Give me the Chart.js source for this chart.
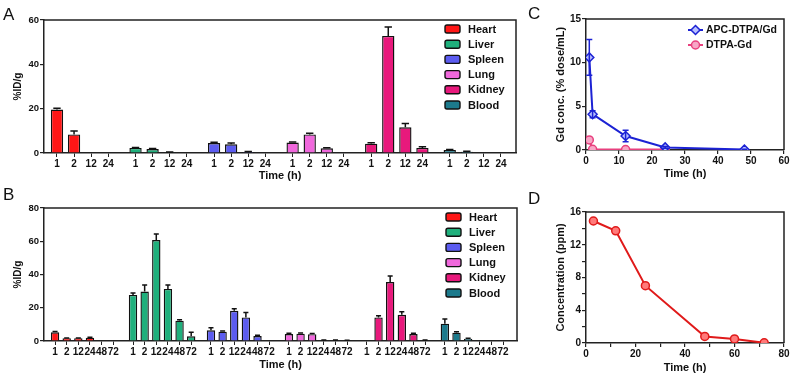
<!DOCTYPE html>
<html>
<head>
<meta charset="utf-8">
<script src="https://cdn.jsdelivr.net/npm/chart.js@4.4.1/dist/chart.umd.min.js"></script>
<style>
  body { margin: 0; background: #fff; }
  #wrap { position: relative; width: 793px; height: 379px; overflow: hidden; background: #fff; }
  #wrap canvas { position: absolute; }
  .tag { position: absolute; font: 17px/17px "Liberation Sans", Arial, sans-serif; color: #111; }
</style>
</head>
<body>
<div id="wrap">
  <canvas id="chartA" width="530" height="186" style="left:0;top:0"></canvas>
  <canvas id="chartB" width="530" height="193" style="left:0;top:186px"></canvas>
  <canvas id="chartC" width="253" height="186" style="left:540px;top:0"></canvas>
  <canvas id="chartD" width="253" height="193" style="left:540px;top:186px"></canvas>
  <div class="tag" style="left:3px;top:6px">A</div>
  <div class="tag" style="left:3px;top:186px">B</div>
  <div class="tag" style="left:528px;top:5px">C</div>
  <div class="tag" style="left:528px;top:190px">D</div>
</div>
<script>
// organs shown in A and B
var organs = ['Heart', 'Liver', 'Spleen', 'Lung', 'Kidney', 'Blood'];
var organColors = ['#ff1616', '#1fb07c', '#5c5cf0', '#f068dc', '#e8197c', '#1c7a8c'];

// A: %ID/g at 1, 2, 12, 24 h
var timeLabelsA = ['1', '2', '12', '24'];
var heartA  = [19.6, 8.4, 0, 0];
var liverA  = [2.3, 1.8, 0.3, 0];
var spleenA = [4.5, 3.9, 0.5, 0];
var lungA   = [4.7, 8.4, 2.1, 0];
var kidneyA = [4.2, 52.8, 11.6, 2.3];
var bloodA  = [1.4, 0.6, 0, 0];
var heartAErr  = [0.6, 1.5, 0, 0];
var liverAErr  = [0.2, 0.2, 0.1, 0];
var spleenAErr = [0.3, 0.6, 0.2, 0];
var lungAErr   = [0.3, 0.5, 0.3, 0];
var kidneyAErr = [0.4, 4.0, 1.7, 0.5];
var bloodAErr  = [0.2, 0.2, 0, 0];

// B: %ID/g at 1, 2, 12, 24, 48, 72 h
var timeLabelsB = ['1', '2', '12', '24', '48', '72'];
var heartB  = [5.2, 1.6, 1.6, 2.0, 0, 0];
var liverB  = [27.7, 29.7, 60.7, 31.3, 12.2, 2.8];
var spleenB = [6.4, 5.6, 18.2, 14.2, 3.0, 0];
var lungB   = [4.2, 4.4, 4.1, 0.3, 0.3, 0.2];
var kidneyB = [0, 14.2, 35.5, 15.8, 4.2, 0.3];
var bloodB  = [10.4, 5.0, 1.3, 0, 0, 0];
var heartBErr  = [0.5, 0.2, 0.2, 0.3, 0, 0];
var liverBErr  = [1.2, 4.0, 3.6, 2.4, 0.6, 2.4];
var spleenBErr = [1.6, 0.4, 1.2, 3.0, 0.5, 0];
var lungBErr   = [0.4, 0.4, 0.4, 0.3, 0.3, 0.3];
var kidneyBErr = [0, 1.0, 3.6, 1.8, 0.4, 0.3];
var bloodBErr  = [2.8, 0.5, 0.4, 0, 0, 0];

// C: Gd concentration in blood
var apcTime = [1, 2, 12, 24, 48];
var apcConc = [10.6, 4.1, 1.6, 0.3, 0.05];
var apcErr  = [2.05, 0.4, 0.65, 0.1, 0.05];
var dtpaTime = [1, 2, 12, 24];
var dtpaConc = [1.15, 0.08, 0.05, 0.05];

// D: concentration (ppm)
var dTime = [3, 12, 24, 48, 60, 72];
var dConc = [14.9, 13.7, 7.0, 0.8, 0.5, 0.02];

Chart.defaults.font.family = '"Liberation Sans", Arial, sans-serif';
Chart.defaults.color = '#111';
Chart.defaults.animation = false;

var AXIS = '#222';
var boldFont = function (size) { return { size: size, weight: 'bold' }; };

// draws the top and right edge of the plot box
var frame = {
  id: 'frame',
  afterDraw: function (chart) {
    var a = chart.chartArea, ctx = chart.ctx;
    ctx.save();
    ctx.strokeStyle = AXIS;
    ctx.lineWidth = 1.5;
    ctx.beginPath();
    ctx.moveTo(a.left, a.top);
    ctx.lineTo(a.right, a.top);
    ctx.lineTo(a.right, a.bottom);
    ctx.stroke();
    ctx.restore();
  }
};

var errorBars = {
  id: 'errorBars',
  afterDatasetsDraw: function (chart) {
    var ctx = chart.ctx, ys = chart.scales.y;
    chart.data.datasets.forEach(function (ds, di) {
      if (!ds.errors) return;
      var meta = chart.getDatasetMeta(di);
      meta.data.forEach(function (el, i) {
        var err = ds.errors[i];
        if (!err) return;
        var v = ds.data[i].y;
        var cap = ds.capWidth || el.width * 0.6;
        var top = ys.getPixelForValue(v + err);
        var bottom = ds.twoSided ? ys.getPixelForValue(Math.max(v - err, 0)) : el.y;
        ctx.save();
        ctx.strokeStyle = ds.errorColor || '#111';
        ctx.lineWidth = 1.5;
        ctx.beginPath();
        ctx.moveTo(el.x, bottom);
        ctx.lineTo(el.x, top);
        ctx.moveTo(el.x - cap / 2, top);
        ctx.lineTo(el.x + cap / 2, top);
        if (ds.twoSided && v - err > 0) {
          ctx.moveTo(el.x - cap / 2, bottom);
          ctx.lineTo(el.x + cap / 2, bottom);
        }
        ctx.stroke();
        ctx.restore();
      });
    });
  }
};

function drawMarker(ctx, style, x, y, r) {
  ctx.beginPath();
  if (style === 'rectRot') {
    ctx.moveTo(x, y - r); ctx.lineTo(x + r, y); ctx.lineTo(x, y + r); ctx.lineTo(x - r, y); ctx.closePath();
  } else {
    ctx.arc(x, y, r, 0, Math.PI * 2);
  }
  ctx.fill();
  ctx.stroke();
}

// legend placed inside the plot, measured from the top right corner
function insideLegend(kind, dx, dy, step, size) {
  return {
    id: 'insideLegend',
    afterDraw: function (chart) {
      var a = chart.chartArea, ctx = chart.ctx;
      var x0 = a.right - dx;
      ctx.save();
      ctx.font = 'bold ' + size + 'px "Liberation Sans", Arial, sans-serif';
      ctx.textBaseline = 'middle';
      chart.data.datasets.forEach(function (ds, k) {
        var y = a.top + dy + k * step;
        if (kind === 'box') {
          ctx.fillStyle = ds.backgroundColor;
          ctx.strokeStyle = '#111';
          ctx.lineWidth = 1.4;
          ctx.beginPath();
          ctx.roundRect(x0, y - 4, 15, 8, 2);
          ctx.fill();
          ctx.stroke();
          ctx.fillStyle = '#111';
          ctx.fillText(ds.label, x0 + 23, y + 0.5);
        } else {
          ctx.strokeStyle = ds.borderColor;
          ctx.lineWidth = 2;
          ctx.beginPath();
          ctx.moveTo(x0, y); ctx.lineTo(x0 + 15, y);
          ctx.stroke();
          ctx.fillStyle = ds.pointBackgroundColor;
          ctx.lineWidth = 1.5;
          drawMarker(ctx, ds.pointStyle, x0 + 7.5, y, ds.pointRadius);
          ctx.fillStyle = '#111';
          ctx.fillText(ds.label, x0 + 18, y + 0.5);
        }
      });
      ctx.restore();
    }
  };
}

function fixedSize(w) { return function (s) { s.width = w; }; }
function fixedHeight(h) { return function (s) { s.height = h; }; }

function buildBarChart(id, times, values, errors, groupStep, xMin, xMax, yMax, yStep, lay) {
  var positions = [];
  var datasets = organs.map(function (name, g) {
    var pts = values[g].map(function (v, i) {
      var x = g * groupStep + i;
      positions.push(x);
      return { x: x, y: v };
    });
    return {
      label: name,
      data: pts,
      errors: errors[g],
      backgroundColor: organColors[g],
      borderColor: '#111',
      borderWidth: 1.4,
      grouped: false,
      barPercentage: 0.9,
      categoryPercentage: 0.8
    };
  });

  return new Chart(document.getElementById(id), {
    type: 'bar',
    data: { datasets: datasets },
    options: {
      responsive: false,
      layout: { padding: { top: lay.top, right: lay.right, left: 0, bottom: 0 } },
      plugins: { legend: { display: false }, tooltip: { enabled: false } },
      scales: {
        x: {
          type: 'linear', min: xMin, max: xMax, offset: false,
          afterBuildTicks: function (s) { s.ticks = positions.map(function (v) { return { value: v }; }); },
          afterFit: fixedHeight(lay.xH),
          ticks: {
            autoSkip: false, maxRotation: 0, padding: 1, font: boldFont(10), color: '#111',
            callback: function (v, i) { return times[i % times.length]; }
          },
          grid: { drawOnChartArea: false, offset: false, tickLength: 4, color: AXIS, lineWidth: 1 },
          border: { color: AXIS, width: 1.5 },
          title: { display: true, text: 'Time (h)', font: boldFont(11), color: '#111', padding: { top: 0, bottom: lay.xTitlePad } }
        },
        y: {
          min: 0, max: yMax,
          afterFit: fixedSize(44),
          ticks: { stepSize: yStep, padding: 1, font: boldFont(9.5), color: '#111' },
          grid: { drawOnChartArea: false, tickLength: 4, color: AXIS, lineWidth: 1.2 },
          border: { color: AXIS, width: 1.5 },
          title: { display: true, text: '%ID/g', font: boldFont(10), color: '#111', padding: { top: 12, bottom: 0 } }
        }
      }
    },
    plugins: [errorBars, frame, insideLegend('box', 71, 9, 15.2, 11)]
  });
}

buildBarChart('chartA', timeLabelsA,
  [heartA, liverA, spleenA, lungA, kidneyA, bloodA],
  [heartAErr, liverAErr, spleenAErr, lungAErr, kidneyAErr, bloodAErr],
  4.6, -0.76, 26.88, 60, 20,
  { top: 20, right: 14, xH: 33, xTitlePad: 3.4 });

buildBarChart('chartB', timeLabelsB,
  [heartB, liverB, spleenB, lungB, kidneyB, bloodB],
  [heartBErr, liverBErr, spleenBErr, lungBErr, kidneyBErr, bloodBErr],
  6.7, -0.95, 39.7, 80, 20,
  { top: 22, right: 13, xH: 38, xTitlePad: 7.4 });

function lineAxes(xMax, xStep, xMajor, yMax, yStep, yMajor, yTitle, xTitlePad) {
  return {
    x: {
      type: 'linear', min: 0, max: xMax,
      afterFit: fixedHeight(36),
      ticks: {
        stepSize: xStep, padding: 1, maxRotation: 0, font: boldFont(10), color: '#111',
        callback: function (v) { return v % xMajor === 0 ? v : ''; }
      },
      grid: { drawOnChartArea: false, tickLength: 4, color: AXIS, lineWidth: 1.2 },
      border: { color: AXIS, width: 1.5 },
      title: { display: true, text: 'Time (h)', font: boldFont(11), color: '#111', padding: { top: 0, bottom: xTitlePad } }
    },
    y: {
      min: 0, max: yMax,
      afterFit: fixedSize(46),
      ticks: {
        stepSize: yStep, padding: 1, font: boldFont(10), color: '#111',
        callback: function (v) { return v % yMajor === 0 ? v : ''; }
      },
      grid: { drawOnChartArea: false, tickLength: 4, color: AXIS, lineWidth: 1.2 },
      border: { color: AXIS, width: 1.5 },
      title: { display: true, text: yTitle, font: boldFont(11), color: '#111', padding: { top: 14, bottom: 0 } }
    }
  };
}

function pairs(xs, ys) { return xs.map(function (x, i) { return { x: x, y: ys[i] }; }); }

new Chart(document.getElementById('chartC'), {
  type: 'line',
  data: {
    datasets: [{
      label: 'APC-DTPA/Gd',
      data: pairs(apcTime, apcConc),
      errors: apcErr, twoSided: true, capWidth: 6, errorColor: '#1c22d4',
      borderColor: '#1c22d4', borderWidth: 2,
      pointStyle: 'rectRot', pointRadius: 4.5, pointBorderWidth: 1.5,
      pointBorderColor: '#1c22d4', pointBackgroundColor: '#b9c0ff',
      tension: 0, fill: false
    }, {
      label: 'DTPA-Gd',
      data: pairs(dtpaTime, dtpaConc),
      borderColor: '#e8407e', borderWidth: 2,
      pointStyle: 'circle', pointRadius: 4, pointBorderWidth: 1.5,
      pointBorderColor: '#e8407e', pointBackgroundColor: '#f7a6c6',
      tension: 0, fill: false
    }]
  },
  options: {
    responsive: false,
    layout: { padding: { top: 19, right: 9, left: 0, bottom: 0 } },
    plugins: { legend: { display: false }, tooltip: { enabled: false } },
    scales: lineAxes(60, 10, 10, 15, 5, 5, 'Gd conc. (% dose/mL)', 5.4)
  },
  plugins: [errorBars, frame, insideLegend('line', 96, 11, 15, 10.5)]
});

new Chart(document.getElementById('chartD'), {
  type: 'line',
  data: {
    datasets: [{
      label: 'Concentration',
      data: pairs(dTime, dConc),
      borderColor: '#e01a1a', borderWidth: 2,
      pointStyle: 'circle', pointRadius: 4, pointBorderWidth: 1.5,
      pointBorderColor: '#e01a1a', pointBackgroundColor: '#ff7a7a',
      tension: 0, fill: false
    }]
  },
  options: {
    responsive: false,
    layout: { padding: { top: 26, right: 9, left: 0, bottom: 0 } },
    plugins: { legend: { display: false }, tooltip: { enabled: false } },
    scales: lineAxes(80, 10, 20, 16, 2, 4, 'Concentration (ppm)', 4.4)
  },
  plugins: [frame]
});
</script>
</body>
</html>
